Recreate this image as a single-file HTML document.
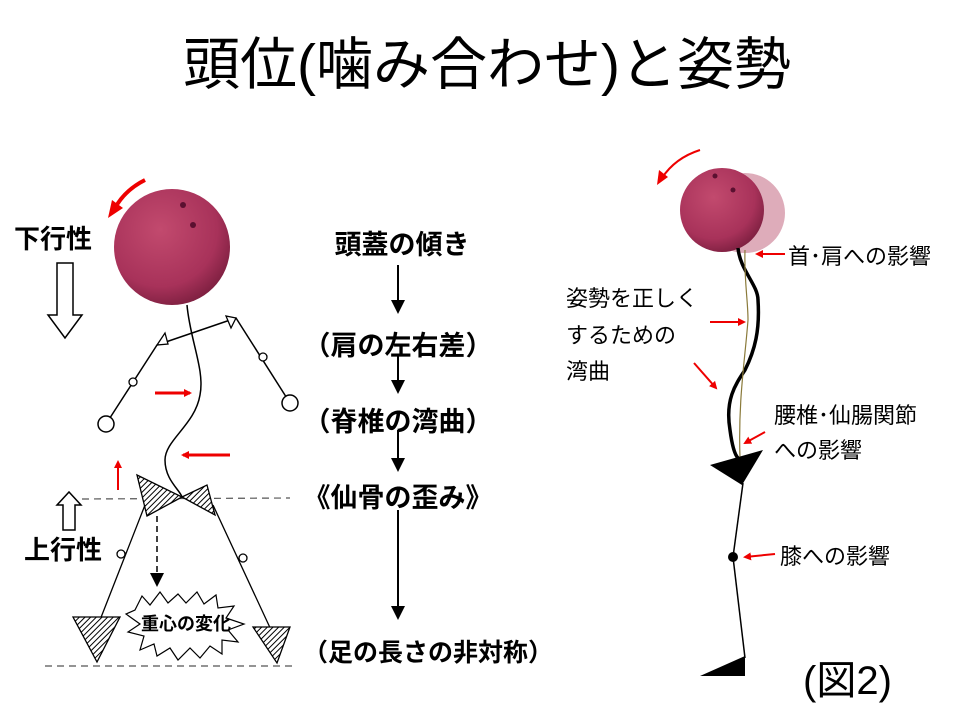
<!DOCTYPE html>
<html><head><meta charset="utf-8"><style>
html,body{margin:0;padding:0;background:#fff;}
svg{display:block;}
text{font-family:"Liberation Sans","Noto Sans CJK JP",sans-serif;}
</style></head><body>
<svg width="960" height="720" viewBox="0 0 960 720" xmlns="http://www.w3.org/2000/svg">
<defs>
<radialGradient id="ball" cx="0.4" cy="0.35" r="0.7">
<stop offset="0" stop-color="#c24a6e"/><stop offset="0.7" stop-color="#a8325a"/><stop offset="1" stop-color="#7a1e3e"/>
</radialGradient>
<pattern id="hatch" width="4" height="4" patternUnits="userSpaceOnUse" patternTransform="rotate(45)">
<rect width="4" height="4" fill="#fff"/><line x1="0" y1="0" x2="0" y2="4" stroke="#000" stroke-width="2"/>
</pattern>
<marker id="ra" markerWidth="8" markerHeight="8" refX="6" refY="4" orient="auto" markerUnits="userSpaceOnUse"><path d="M0,0 L8,4 L0,8z" fill="#e00"/></marker>
<marker id="ka" markerWidth="14" markerHeight="14" refX="12" refY="7" orient="auto" markerUnits="userSpaceOnUse"><path d="M0,0 L14,7 L0,14z" fill="#000"/></marker>
</defs>
<text x="487" y="84" font-size="57" text-anchor="middle">頭位(噛み合わせ)と姿勢</text>

<!-- LEFT FIGURE -->
<circle cx="172" cy="247" r="58" fill="url(#ball)"/>
<circle cx="183" cy="205" r="3" fill="#5a1030"/><circle cx="193" cy="225" r="3" fill="#5a1030"/>
<path d="M145,180 Q125,190 115,208" fill="none" stroke="#e00" stroke-width="4"/>
<path d="M108,218 L112,200 L123,208z" fill="#e00"/>
<text x="14" y="248" font-size="26" font-weight="bold">下行性</text>
<path d="M57,263 H73 V315 H82 L65,338 L48,315 H57z" fill="#fff" stroke="#000" stroke-width="1.5"/>
<path d="M187,305 C190,340 205,370 200,395 C195,425 165,440 165,460 C165,480 180,490 182,497" fill="none" stroke="#000" stroke-width="1.5"/>
<line x1="157" y1="345" x2="236" y2="318" stroke="#000" stroke-width="1.5"/>
<path d="M157,345 L165,333 L168,344z M236,318 L226,316 L231,328z" fill="#fff" stroke="#000" stroke-width="1.3"/>
<line x1="157" y1="345" x2="106" y2="424" stroke="#000" stroke-width="1.5"/>
<line x1="236" y1="318" x2="290" y2="403" stroke="#000" stroke-width="1.5"/>
<circle cx="133" cy="382" r="4" fill="#fff" stroke="#000" stroke-width="1.3"/>
<circle cx="106" cy="424" r="8" fill="#fff" stroke="#000" stroke-width="1.5"/>
<circle cx="263" cy="357" r="4" fill="#fff" stroke="#000" stroke-width="1.3"/>
<circle cx="290" cy="403" r="8" fill="#fff" stroke="#000" stroke-width="1.5"/>
<line x1="155" y1="393" x2="190" y2="393" stroke="#e00" stroke-width="3" marker-end="url(#ra)"/>
<line x1="230" y1="455" x2="183" y2="455" stroke="#e00" stroke-width="3" marker-end="url(#ra)"/>
<line x1="118" y1="490" x2="118" y2="462" stroke="#e00" stroke-width="2" marker-end="url(#ra)"/>
<line x1="82" y1="499" x2="290" y2="498" stroke="#555" stroke-width="1.2" stroke-dasharray="7,5"/>
<path d="M137,475 L182,497 L147,516z" fill="url(#hatch)" stroke="#000" stroke-width="1.3"/>
<path d="M182,497 L207,485 L215,515z" fill="url(#hatch)" stroke="#000" stroke-width="1.3"/>
<path d="M63,530 V505 H57 L69,492 L81,505 H75 V530z" fill="#fff" stroke="#000" stroke-width="1.5"/>
<text x="24" y="559" font-size="26" font-weight="bold">上行性</text>
<line x1="145" y1="505" x2="100" y2="620" stroke="#000" stroke-width="1.3"/>
<line x1="213" y1="505" x2="272" y2="632" stroke="#000" stroke-width="1.3"/>
<circle cx="121" cy="554" r="4" fill="#fff" stroke="#000" stroke-width="1.3"/>
<circle cx="243" cy="558" r="4" fill="#fff" stroke="#000" stroke-width="1.3"/>
<line x1="157" y1="516" x2="157" y2="585" stroke="#000" stroke-width="1.5" stroke-dasharray="6,4" marker-end="url(#ka)"/>
<path d="M73,617 L120,617 L97,662z" fill="url(#hatch)" stroke="#000" stroke-width="1.3"/>
<path d="M253,627 L290,627 L277,663z" fill="url(#hatch)" stroke="#000" stroke-width="1.3"/>
<path d="M135,610 L142,596 L150,605 L160,592 L168,603 L178,594 L186,603 L197,592 L204,604 L216,595 L218,608 L234,606 L226,618 L244,624 L228,630 L238,642 L222,640 L222,654 L210,646 L200,658 L190,648 L178,660 L170,648 L157,656 L154,644 L140,650 L144,636 L128,632 L140,624 L126,614z" fill="#fff" stroke="#000" stroke-width="1.2"/>
<text x="186" y="630" font-size="18" font-weight="bold" text-anchor="middle">重心の変化</text>
<line x1="45" y1="666" x2="295" y2="666" stroke="#555" stroke-width="1.2" stroke-dasharray="7,5"/>

<!-- MIDDLE COLUMN -->
<g font-size="27" font-weight="bold" text-anchor="middle">
<text x="402" y="254">頭蓋の傾き</text>
<text x="398" y="355">（肩の左右差）</text>
<text x="398" y="431">（脊椎の湾曲）</text>
<text x="398" y="507">《仙骨の歪み》</text>
<text x="428" y="661" font-size="25">（足の長さの非対称）</text>
</g>
<line x1="398" y1="265" x2="398" y2="312" stroke="#000" stroke-width="2" marker-end="url(#ka)"/>
<line x1="398" y1="355" x2="398" y2="392" stroke="#000" stroke-width="2" marker-end="url(#ka)"/>
<line x1="398" y1="430" x2="398" y2="470" stroke="#000" stroke-width="2" marker-end="url(#ka)"/>
<line x1="398" y1="510" x2="398" y2="618" stroke="#000" stroke-width="2" marker-end="url(#ka)"/>

<!-- RIGHT FIGURE -->
<path d="M700,150 Q675,158 662,178" fill="none" stroke="#e00" stroke-width="2"/>
<path d="M657,185 L659,170 L668,177z" fill="#e00"/>
<circle cx="745" cy="213" r="40" fill="#c8758c" opacity="0.6"/>
<circle cx="722" cy="210" r="42" fill="url(#ball)"/>
<circle cx="715" cy="176" r="2.5" fill="#5a1030"/><circle cx="733" cy="190" r="2.5" fill="#5a1030"/>
<path d="M738,248 C740,270 758,285 758,300 C760,330 755,350 745,370 C735,385 725,400 730,430 C732,445 735,455 738,458" fill="none" stroke="#000" stroke-width="3.5"/>
<path d="M745,250 C744,280 748,300 748,320 C745,360 738,400 740,458" fill="none" stroke="#8a7a3a" stroke-width="1.2"/>
<path d="M710,465 L763,450 L742,485z" fill="#000"/>
<line x1="743" y1="483" x2="733" y2="557" stroke="#000" stroke-width="1.5"/>
<line x1="733" y1="557" x2="745" y2="658" stroke="#000" stroke-width="1.5"/>
<circle cx="733" cy="557" r="5" fill="#000"/>
<path d="M700,676 L745,676 L745,656z" fill="#000"/>
<line x1="785" y1="254" x2="757" y2="254" stroke="#e00" stroke-width="2" marker-end="url(#ra)"/>
<line x1="710" y1="322" x2="744" y2="322" stroke="#e00" stroke-width="2" marker-end="url(#ra)"/>
<line x1="694" y1="363" x2="716" y2="388" stroke="#e00" stroke-width="2" marker-end="url(#ra)"/>
<line x1="765" y1="432" x2="745" y2="443" stroke="#e00" stroke-width="2" marker-end="url(#ra)"/>
<line x1="775" y1="554" x2="745" y2="557" stroke="#e00" stroke-width="2" marker-end="url(#ra)"/>
<g font-size="22">
<text x="788" y="264">首･肩への影響</text>
<text x="566" y="306">姿勢を正しく</text>
<text x="566" y="343">するための</text>
<text x="566" y="379">湾曲</text>
<text x="774" y="423">腰椎･仙腸関節</text>
<text x="774" y="458">への影響</text>
<text x="780" y="564">膝への影響</text>
</g>
<text x="803" y="694" font-size="40" font-family="Liberation Serif,'Noto Serif CJK SC',serif">(図2)</text>
</svg>
</body></html>
